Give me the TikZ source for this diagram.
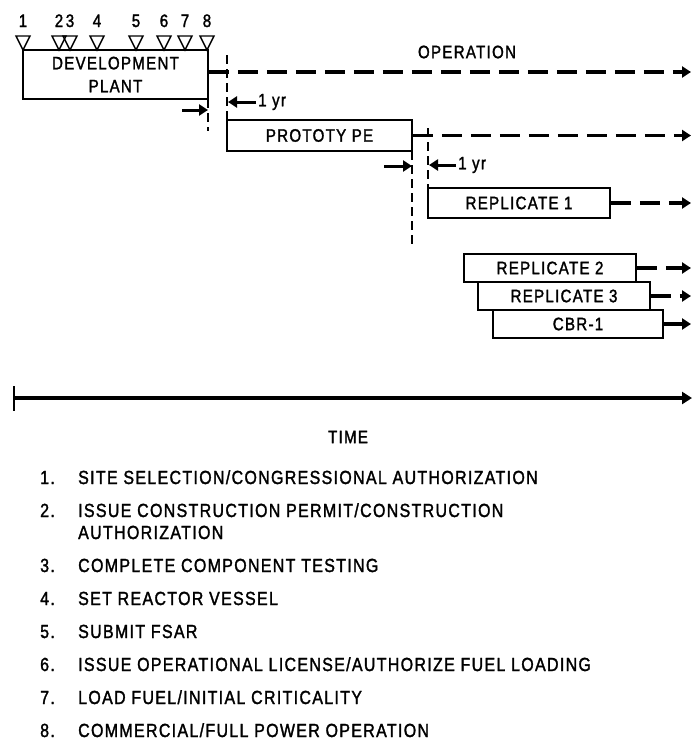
\documentclass[tikz,border=0pt]{standalone}
\usepackage{fontspec}
\setmainfont{Liberation Sans}[FakeStretch=0.84, LetterSpace=7, FakeBold=1.6]
\usetikzlibrary{arrows.meta}
\begin{document}
\begin{tikzpicture}[x=1pt,y=-1pt,
  lbl/.style={font=\fontsize{18}{23}\selectfont, inner sep=0pt},
  stage/.style={draw, line width=1.6pt, inner sep=0pt, lbl, align=center},
  flow/.style={line width=3.8pt, dash pattern=on 20pt off 9pt, -{Triangle[length=9pt,width=11pt]}},
  guide/.style={draw, line width=1.3pt, dash pattern=on 9pt off 5pt},
  gaparrow/.style={line width=3pt, -{Triangle[length=9pt,width=11pt]}},
  milestone/.style={line width=1.4pt},
  item/.style={font=\fontsize{19}{22}\selectfont, inner sep=0pt, anchor=base west}]
\useasboundingbox (0,0) rectangle (695,742);

% development plant and its milestones
\node[stage, minimum width=185pt, minimum height=49pt] (dev) at (115.5,74.5)
  {DEVELOPMENT\\[0pt]PLANT};
\foreach \n/\x in {1/23,2/59,3/70,4/97,5/136,6/164,7/185,8/207}{
  \node[lbl, anchor=base] (n\n) at (\x,27) {\n};
  \draw[milestone] (\x-7,36) -- (\x+7,36) -- (\x,50) -- cycle;
}

% later plants
\node[stage, minimum width=185pt, minimum height=31pt] (proto) at (319.5,135.5) {PROTOTY PE};
\node[stage, minimum width=182pt, minimum height=30pt] (rep1) at (519,203) {REPLICATE 1};
\node[stage, minimum width=172pt, minimum height=28pt] (rep2) at (550,268) {REPLICATE 2};
\node[stage, minimum width=172pt, minimum height=28pt] (rep3) at (564,296) {REPLICATE 3};
\node[stage, minimum width=170pt, minimum height=28pt] (cbr) at (578,324) {CBR-1};

% operation lines
\coordinate (e0) at (691,72);
\coordinate (e1) at (691,135.5);
\coordinate (e2) at (691,203);
\coordinate (e3) at (691,268);
\coordinate (e4) at (691,296);
\coordinate (e5) at (691,324);
\draw[flow] (dev.east |- e0) -- (e0);
\draw[flow] (proto.east) -- (e1);
\draw[flow] (rep1.east) -- (e2);
\draw[flow] (rep2.east) -- (e3);
\draw[flow] (rep3.east) -- (e4);
\draw[flow] (cbr.east) -- (e5);
\node[lbl] (op) at (467,52) {OPERATION};

% one-year gaps
\coordinate (m1a) at (208,99);  \coordinate (m1b) at (208,131);
\coordinate (m2a) at (227,55);  \coordinate (m2b) at (227,120);
\coordinate (m3a) at (412,151); \coordinate (m3b) at (412,246);
\coordinate (m4a) at (428,128); \coordinate (m4b) at (428,188);
\draw[guide] (m1a) -- (m1b);
\draw[guide] (m2a) -- (m2b);
\draw[guide] (m3a) -- (m3b);
\draw[guide] (m4a) -- (m4b);
\coordinate (g1) at (182,110);
\coordinate (g2) at (256,102);
\coordinate (g3) at (384,166);
\coordinate (g4) at (456,165);
\draw[gaparrow] (g1) -- (m1a |- g1);
\draw[gaparrow] (g2) -- ([xshift=1pt]m2a |- g2);
\draw[gaparrow] (g3) -- (m3a |- g3);
\draw[gaparrow] (g4) -- ([xshift=1pt]m4a |- g4);
\node[lbl, anchor=west] (y1) at ([xshift=2pt]g2) {1 yr};
\node[lbl, anchor=west] (y2) at ([xshift=2pt]g4) {1 yr};

% time axis
\coordinate (t0) at (14,398);
\coordinate (t1) at (692,398);
\draw[line width=1.6pt] (14,386) -- (14,411);
\draw[line width=3.8pt, -{Triangle[length=10pt,width=12pt]}] (t0) -- (t1);
\node[lbl] (time) at (348,437) {TIME};

% legend
\foreach \n/\y/\t in {
  1/484/{SITE SELECTION/CONGRESSIONAL AUTHORIZATION},
  2/517/{ISSUE CONSTRUCTION PERMIT/CONSTRUCTION},
  3/572/{COMPLETE COMPONENT TESTING},
  4/605/{SET REACTOR VESSEL},
  5/638/{SUBMIT FSAR},
  6/671/{ISSUE OPERATIONAL LICENSE/AUTHORIZE FUEL LOADING},
  7/704/{LOAD FUEL/INITIAL CRITICALITY},
  8/737/{COMMERCIAL/FULL POWER OPERATION}}{
  \node[item] (k\n) at (40,\y) {\n.};
  \node[item] (d\n) at (78,\y) {\t};
}
\node[item] (d2b) at (78,539) {AUTHORIZATION};
\end{tikzpicture}
\end{document}
